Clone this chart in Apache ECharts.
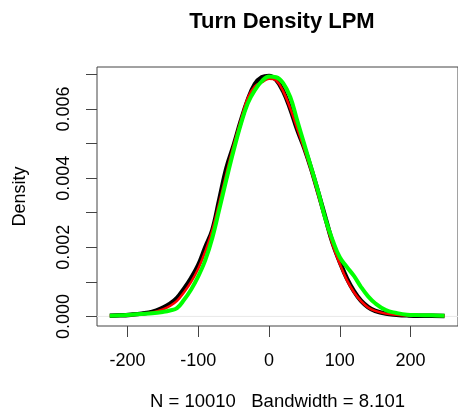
<!DOCTYPE html>
<html>
<head>
<meta charset="utf-8">
<script src="https://cdn.jsdelivr.net/npm/echarts@6/dist/echarts.min.js"></script>
<style>
html,body{margin:0;padding:0;background:#fff;}
#chart{width:458px;height:416px;}
</style>
</head>
<body>
<div id="chart"></div>
<script>
const titleText = 'Turn Density LPM';
const xAxisTitle = 'N = 10010   Bandwidth = 8.101';
const yAxisTitle = 'Density';

const xValues = [-225,-210,-195,-180,-165,-150,-140,-130,-120,-110,-100,-90,-80,-70,-60,-50,-40,-30,-20,-10,0,10,20,30,40,50,60,70,80,90,100,110,120,130,140,150,165,180,195,210,230,248];

const blackY = [0.00002,0.00003,0.00005,0.00008,0.00013,0.00025,0.00036,0.00053,0.0008,0.00111,0.00148,0.002,0.0025,0.0034,0.0043,0.00494,0.00564,0.00626,0.00672,0.00692,0.00696,0.00685,0.00652,0.00601,0.0054,0.00487,0.00425,0.00355,0.00283,0.00212,0.00158,0.0011,0.00073,0.00045,0.00027,0.00016,0.00008,0.00005,0.00003,0.00002,0.00002,0.00001];

const redY = [0.00002,0.00003,0.00004,0.00007,0.00011,0.0002,0.0003,0.00045,0.0007,0.001,0.00138,0.00188,0.0025,0.0033,0.00415,0.00495,0.00567,0.00632,0.00666,0.00678,0.00688,0.00683,0.00652,0.00602,0.00543,0.00483,0.00419,0.00348,0.00276,0.00206,0.00152,0.00105,0.0007,0.00044,0.00026,0.00016,0.00008,0.00005,0.00003,0.00002,0.00002,0.00001];

const greenY = [0.00002,0.00003,0.00005,0.00007,0.00009,0.00013,0.00017,0.00024,0.00048,0.00078,0.00116,0.00163,0.00228,0.00312,0.00398,0.0048,0.00555,0.00617,0.00655,0.00681,0.00694,0.00692,0.00675,0.00635,0.00566,0.00497,0.00428,0.00358,0.0028,0.0022,0.00171,0.00143,0.00117,0.00085,0.00058,0.00038,0.00018,0.0001,0.00005,0.00004,0.00003,0.00002];

const xTicks = [-200,-100,0,100,200];
const yTicks = [0,0.001,0.002,0.003,0.004,0.005,0.006,0.007];
const yLabelValues = [0,0.002,0.004,0.006];

const FONT = '"Liberation Sans", Arial, Helvetica, sans-serif';
const AX = '#444';

function pairs(ys){ return xValues.map((x,i)=>[x, ys[i]]); }

const chart = echarts.init(document.getElementById('chart'), null, {renderer:'canvas'});
chart.setOption({
  animation:false,
  backgroundColor:'#ffffff',
  grid:{left:97, top:67, width:370, height:260, show:true, borderColor:AX, borderWidth:1, backgroundColor:'transparent'},
  graphic:[{
    type:'text', x:282, y:22,
    style:{text:titleText, fontSize:22, fontWeight:'bold', fontFamily:FONT, fill:'#000', align:'center', verticalAlign:'middle'}
  }],
  xAxis:{
    type:'value', min:-243, max:267,
    name:xAxisTitle, nameLocation:'middle', nameGap:66,
    nameTextStyle:{fontSize:18.5, fontFamily:FONT, color:'#000'},
    axisLine:{show:false, onZero:false},
    axisTick:{show:true, inside:false, length:11, customValues:xTicks, lineStyle:{color:AX, width:1}},
    axisLabel:{customValues:xTicks, margin:26, fontSize:18, fontFamily:FONT, color:'#000', formatter:v=>String(v)},
    splitLine:{show:false}
  },
  yAxis:{
    type:'value', min:-0.000278, max:0.007218,
    name:yAxisTitle, nameLocation:'middle', nameGap:68, nameRotate:90,
    nameTextStyle:{fontSize:18, fontFamily:FONT, color:'#000'},
    axisLine:{show:false, onZero:false},
    axisTick:{show:true, inside:false, length:11, customValues:yTicks, lineStyle:{color:AX, width:1}},
    axisLabel:{customValues:yLabelValues, rotate:90, margin:24, fontSize:18, fontFamily:FONT, color:'#000', formatter:v=>v.toFixed(3)},
    splitLine:{show:false}
  },
  series:[
    {type:'line', data:[[-243,0],[267,0]], symbol:'none', silent:true, lineStyle:{color:'#e8e8e8', width:1}, z:1},
    {type:'line', data:pairs(blackY), symbol:'none', smooth:0.4, lineStyle:{color:'#000000', width:4.5}, z:2},
    {type:'line', data:pairs(redY), symbol:'none', smooth:0.4, lineStyle:{color:'#ff0000', width:2.5}, z:3},
    {type:'line', data:pairs(greenY), symbol:'none', smooth:0.4, lineStyle:{color:'#00ff00', width:4}, z:4}
  ]
});
</script>
</body>
</html>
